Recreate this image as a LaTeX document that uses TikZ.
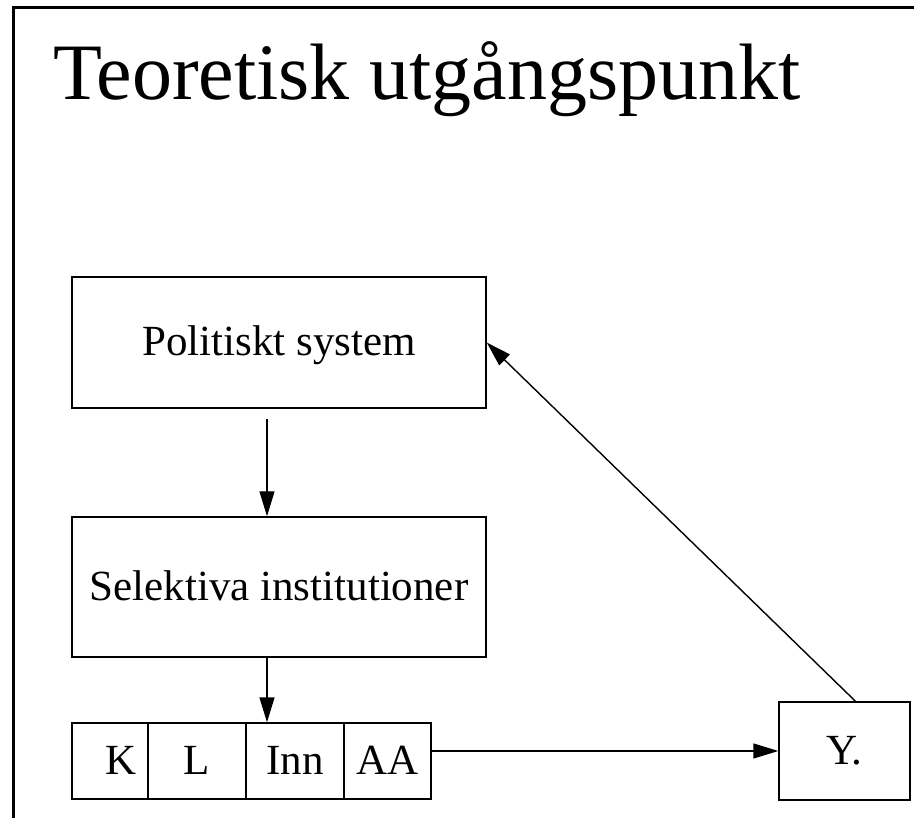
\documentclass[tikz,border=0pt]{standalone}
\usepackage{fontspec}
\setmainfont{Liberation Serif}
\usetikzlibrary{arrows.meta}

\begin{document}
\begin{tikzpicture}[x=1pt, y=-1pt,
  every node/.style={font=\fontsize{43}{50}\selectfont},
  blokk/.style={draw, line width=1.4pt, inner sep=0pt, text height=32pt, text depth=6pt},
  pil/.style={line width=1.4pt, -{Triangle[length=25pt,width=15pt]}}]
\def\rowy{761}
\def\rowh{76}

\useasboundingbox (0,0) rectangle (914,818);
\draw[line width=3pt] (13,818) -- (13,8) -- (914,8);
\node[anchor=base west, inner sep=0pt, font=\fontsize{80}{90}\selectfont] (title) at (53,100) {Teoretisk utgångspunkt};

\node[blokk, minimum width=414pt, minimum height=131pt] (pol) at (279,342.5) {Politiskt system};
\node[blokk, minimum width=414pt, minimum height=140pt] (sel) at (279,587) {Selektiva institutioner};

\foreach \name/\txt/\x/\w in {K/{\hspace*{22pt}K}/110/76, L/L/197/98, Inn/Inn/295/98, AA/AA/387.5/87} {
  \node[blokk, minimum width=\w pt, minimum height=\rowh pt] (\name) at (\x,\rowy) {\txt};
}

\node[blokk, minimum width=131pt, minimum height=98pt] (Y) at (844.5,751) {Y.};

\draw[pil] ([xshift=-12pt,yshift=-10pt]pol.south) -- ([xshift=-12pt]sel.north);
\draw[pil] ([xshift=-12pt]sel.south) -- ([xshift=-12pt]sel.south |- Inn.north);
\draw[pil] (AA.east |- Y.west) -- (Y.west);
\draw[pil] ([xshift=11pt]Y.north) -- (pol.east);
\end{tikzpicture}
\end{document}
